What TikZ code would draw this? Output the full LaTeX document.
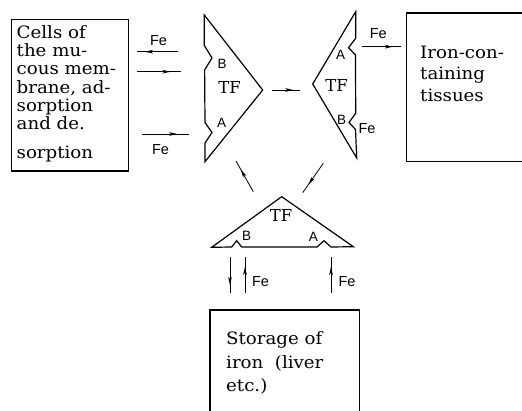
\documentclass[tikz,border=0pt]{standalone}
\usepackage{fontspec}
\setmainfont{DejaVu Serif}
\newfontfamily\boxfont{DejaVu Serif}[FakeStretch=1.07]
\newfontfamily\labfont{Liberation Sans}
\usetikzlibrary{arrows.meta,decorations.markings}
\tikzset{
  frame/.style={line width=1.1pt},
  tri/.style={line width=1.2pt, line join=miter},
  conn/.style={line width=0.8pt},
  headat/.style={decoration={markings, mark=at position #1 with {\arrow{Stealth[length=8pt,width=3.6pt,inset=2pt]}}}, postaction={decorate}},
  fe/.style={font=\labfont\fontsize{14.5}{14.5}\selectfont, inner sep=0pt},
  site/.style={font=\labfont\fontsize{13.5}{13.5}\selectfont, inner sep=0pt},
  tf/.style={font=\fontsize{16.5}{16.5}\selectfont, inner sep=0pt},
  txt/.style={font=\boxfont\fontsize{17}{18.3}\selectfont, inner sep=0pt, anchor=base west},
}
\begin{document}
\begin{tikzpicture}[x=1pt,y=-1pt]
\useasboundingbox (0,0) rectangle (522,411);

% ---- boxes ----
\node[frame, draw, anchor=north west, minimum width=117.8pt, minimum height=151.5pt, inner sep=0pt] (cells) at (10.5,19) {};
\node[txt] (cellstxt) at (16.5,38.3) {\vtop{\baselineskip=18.3pt\lineskiplimit=-20pt
  \hbox{Cells of}\hbox{the mu-}\hbox{cous mem-}\hbox{brane, ad-}\hbox{sorption}\hbox{and de.}\vskip10pt\hbox{sorption}}};

\draw[frame] (523,13) -- (406.7,13) -- (406.7,161.7) -- (523,161.7);
\node[txt] (tissues) at (420,58.3) {\vtop{\baselineskip=21.7pt\lineskiplimit=-20pt
  \hbox{Iron-con-}\hbox{taining}\hbox{tissues}}};

\draw[frame] (210,412) -- (210,310) -- (359.3,310) -- (359.3,412);
\node[txt] (storage) at (226,345) {\vtop{\baselineskip=23.3pt\lineskiplimit=-20pt
  \hbox{Storage of}\hbox{iron\ \ (liver}\hbox{etc.)}}};

% ---- transferrin shapes ----
\draw[tri] (204.3,15) -- (262.7,90) -- (205,161.7) -- (205,143) -- (212,132.5) -- (205,122.5)
  -- (204.6,70) -- (212,58) -- (204.3,45.5) -- cycle;
\node[site] (b1) at (222,64) {B};
\node[tf] (tf1) at (229.5,87) {TF};
\node[site] (a1) at (221.5,123) {A};

\draw[tri] (355.7,11.7) -- (355.7,38.3) -- (348.5,47.7) -- (355.5,55) -- (355.7,113.3) -- (349,122.5)
  -- (355.5,129.5) -- (356.7,158) -- (312.7,84) -- cycle;
\node[site] (a2) at (340.7,55) {A};
\node[tf] (tf2) at (336.7,85) {TF};
\node[site] (b2) at (341.7,120) {B};
\node[fe] (fe5) at (367,128.3) {Fe};

\draw[tri] (281.7,196.7) -- (353.3,246.7) -- (331,247) -- (324,240.7) -- (317,247) -- (241.7,247)
  -- (236.7,240.7) -- (231.7,247) -- (211.7,247.3) -- cycle;
\node[tf] (tf3) at (281,215) {TF};
\node[site] (b3) at (246.7,236) {B};
\node[site] (a3) at (313.3,237.3) {A};

% ---- connector end points ----
\coordinate (c1s) at (178.3,51.7);  \coordinate (c1e) at (136.7,51.7);
\coordinate (c2s) at (137,71.7);    \coordinate (c2e) at (180.5,71.7);
\coordinate (c3s) at (141.7,134);   \coordinate (c3e) at (188.5,134);
\coordinate (c4s) at (272,90);      \coordinate (c4e) at (300,90);
\coordinate (c5s) at (361.7,46.7);  \coordinate (c5e) at (400.7,46.7);
\coordinate (c6s) at (253.3,191.7); \coordinate (c6e) at (236,161);
\coordinate (c7s) at (323.3,163.3); \coordinate (c7e) at (302.7,192.7);
\coordinate (c8s) at (230,256.7);   \coordinate (c8e) at (230,293);
\coordinate (c9s) at (245,293);     \coordinate (c9e) at (245,256.7);
\coordinate (c10s) at (331,293);    \coordinate (c10e) at (331,256.7);

% ---- connectors ----
\draw[conn, headat=0.8]  (c1s) -- (c1e);
\draw[conn, headat=0.77] (c2s) -- (c2e);
\draw[conn, headat=0.76] (c3s) -- (c3e);
\draw[conn, headat=0.76] (c4s) -- (c4e);
\draw[conn, headat=0.8]  (c5s) -- (c5e);
\draw[conn, headat=0.72] (c6s) -- (c6e);
\draw[conn, headat=0.72] (c7s) -- (c7e);
\draw[conn, headat=0.78] (c8s) -- (c8e);
\draw[conn, headat=0.72] (c9s) -- (c9e);
\draw[conn, headat=0.72] (c10s) -- (c10e);

% ---- Fe labels ----
\node[fe] (fe1) at (158.5,41) {Fe};
\node[fe] (fe3) at (160.5,149.5) {Fe};
\node[fe] (fe4) at (378.3,33.3) {Fe};
\node[fe] (fe6) at (260.5,282) {Fe};
\node[fe] (fe7) at (347,282) {Fe};
\end{tikzpicture}
\end{document}
